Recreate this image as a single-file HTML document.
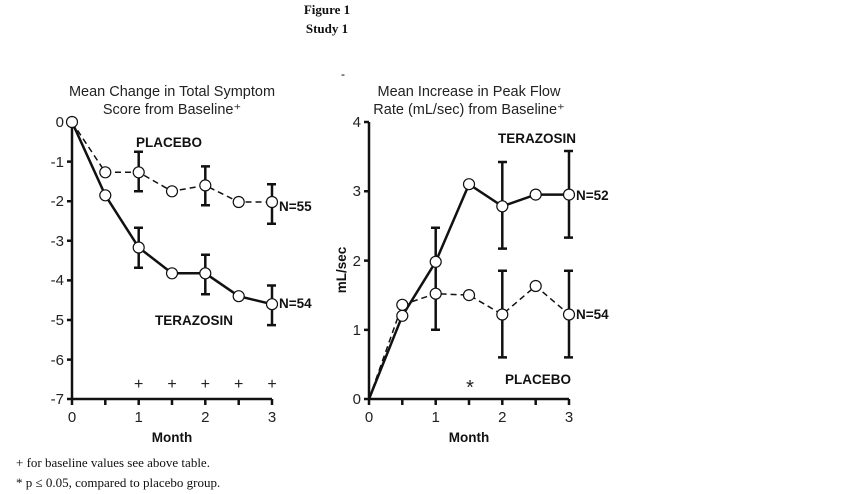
<!DOCTYPE html><html><head><style>body{margin:0;background:#fff}svg{display:block}</style></head><body>
<svg width="846" height="494" xmlns="http://www.w3.org/2000/svg" font-family="Liberation Sans Narrow, Liberation Sans, sans-serif">
<g font-family="Liberation Serif,serif" font-weight="bold" font-size="13" text-anchor="middle" fill="#111">
<text x="327" y="14">Figure 1</text><text x="327" y="33">Study 1</text></g>
<text x="341" y="78" font-size="12">-</text>
<g font-size="14.5" fill="#222" text-anchor="middle">
<text x="172" y="96">Mean Change in Total Symptom</text><text x="172" y="114">Score from Baseline⁺</text>
<text x="469" y="96">Mean Increase in Peak Flow</text><text x="469" y="114">Rate (mL/sec) from Baseline⁺</text></g>
<g stroke="#111" stroke-width="2.5" fill="none">
<path d="M72 122V399H272M72 122h-5M72 161.6h-5M72 201.2h-5M72 240.8h-5M72 280.4h-5M72 320h-5M72 359.6h-5M72 399h-5M72 399v6M105.3 399v6M138.7 399v6M172 399v6M205.3 399v6M238.7 399v6M272 399v6"/>
<path d="M369 122V399H569M369 122h-5M369 191.3h-5M369 260.6h-5M369 329.9h-5M369 399h-5M369 399v6M402.3 399v6M435.7 399v6M469 399v6M502.3 399v6M535.7 399v6M569 399v6"/>
</g>
<g font-size="15" fill="#222" text-anchor="end">
<text x="64" y="127">0</text><text x="64" y="167">-1</text><text x="64" y="206">-2</text><text x="64" y="246">-3</text><text x="64" y="285">-4</text><text x="64" y="325">-5</text><text x="64" y="365">-6</text><text x="64" y="404">-7</text>
<text x="361" y="127">4</text><text x="361" y="196">3</text><text x="361" y="266">2</text><text x="361" y="335">1</text><text x="361" y="404">0</text></g>
<g font-size="15" fill="#222" text-anchor="middle">
<text x="72" y="422">0</text><text x="138.7" y="422">1</text><text x="205.3" y="422">2</text><text x="272" y="422">3</text>
<text x="369" y="422">0</text><text x="435.7" y="422">1</text><text x="502.3" y="422">2</text><text x="569" y="422">3</text></g>
<g font-size="13.5" font-weight="bold" fill="#111">
<text x="172" y="442" text-anchor="middle">Month</text><text x="469" y="442" text-anchor="middle">Month</text>
<text x="136" y="147">PLACEBO</text><text x="155" y="325">TERAZOSIN</text><text x="279" y="211">N=55</text><text x="279" y="308">N=54</text>
<text x="498" y="143">TERAZOSIN</text><text x="505" y="384">PLACEBO</text><text x="576" y="200">N=52</text><text x="576" y="319">N=54</text>
<text transform="translate(346 270) rotate(-90)" text-anchor="middle">mL/sec</text></g>
<g font-size="16" fill="#222" text-anchor="middle"><text x="138.7" y="389">+</text><text x="172" y="389">+</text><text x="205.3" y="389">+</text><text x="238.7" y="389">+</text><text x="272" y="389">+</text><text x="470" y="394" font-size="20">*</text></g>
<g stroke="#111" stroke-width="2.5" fill="none">
<path d="M138.7 151.7V191.3M134 151.7h9M134 191.3h9M205.3 166.4V205.2M201 166.4h9M201 205.2h9M272 184.2V223.8M267 184.2h9M267 223.8h9"/>
<path d="M138.7 227.7V267.7M134 227.7h9M134 267.7h9M205.3 254.7V294.3M201 254.7h9M201 294.3h9M272 285.5V325.1M267 285.5h9M267 325.1h9"/>
<path d="M435.7 227.8V295M431 227.8h9M431 295h9M502.3 162V248.6M498 162h9M498 248.6h9M569 151V237.6M564 151h9M564 237.6h9"/>
<path d="M435.7 293.7V329.7M431 329.7h9M502.3 270.8V357.4M498 270.8h9M498 357.4h9M569 270.8V357.4M564 270.8h9M564 357.4h9"/>
<path stroke-width="1.5" stroke-dasharray="6,4" d="M72 122L105.3 172.3L138.7 172.3L172 191.3L205.3 185.4L238.7 202L272 202"/>
<path d="M72 122L105.3 195.3L138.7 247.5L172 273.3L205.3 273.3L238.7 296.2L272 304.2"/>
<path d="M369 399L402.3 315.8L435.7 261.8L469 184.2L502.3 206.3L535.7 194.6L569 194.6"/>
<path stroke-width="1.5" stroke-dasharray="6,4" d="M369 399L402.3 304.8L435.7 293.7L469 295.1L502.3 314.5L535.7 286L569 314.5"/>
</g>
<g stroke="#111" stroke-width="1.2" fill="#fff">
<circle cx="72" cy="122" r="5.5"/><circle cx="105.3" cy="172.3" r="5.5"/><circle cx="138.7" cy="172.3" r="5.5"/><circle cx="172" cy="191.3" r="5.5"/><circle cx="205.3" cy="185.4" r="5.5"/><circle cx="238.7" cy="202" r="5.5"/><circle cx="272" cy="202" r="5.5"/>
<circle cx="105.3" cy="195.3" r="5.5"/><circle cx="138.7" cy="247.5" r="5.5"/><circle cx="172" cy="273.3" r="5.5"/><circle cx="205.3" cy="273.3" r="5.5"/><circle cx="238.7" cy="296.2" r="5.5"/><circle cx="272" cy="304.2" r="5.5"/>
<circle cx="402.3" cy="315.8" r="5.5"/><circle cx="435.7" cy="261.8" r="5.5"/><circle cx="469" cy="184.2" r="5.5"/><circle cx="502.3" cy="206.3" r="5.5"/><circle cx="535.7" cy="194.6" r="5.5"/><circle cx="569" cy="194.6" r="5.5"/>
<circle cx="402.3" cy="304.8" r="5.5"/><circle cx="435.7" cy="293.7" r="5.5"/><circle cx="469" cy="295.1" r="5.5"/><circle cx="502.3" cy="314.5" r="5.5"/><circle cx="535.7" cy="286" r="5.5"/><circle cx="569" cy="314.5" r="5.5"/>
</g>
<g font-family="Liberation Serif,serif" font-size="13" fill="#111">
<text x="16" y="467">+ for baseline values see above table.</text>
<text x="16" y="487">* p ≤ 0.05, compared to placebo group.</text></g>
</svg></body></html>
